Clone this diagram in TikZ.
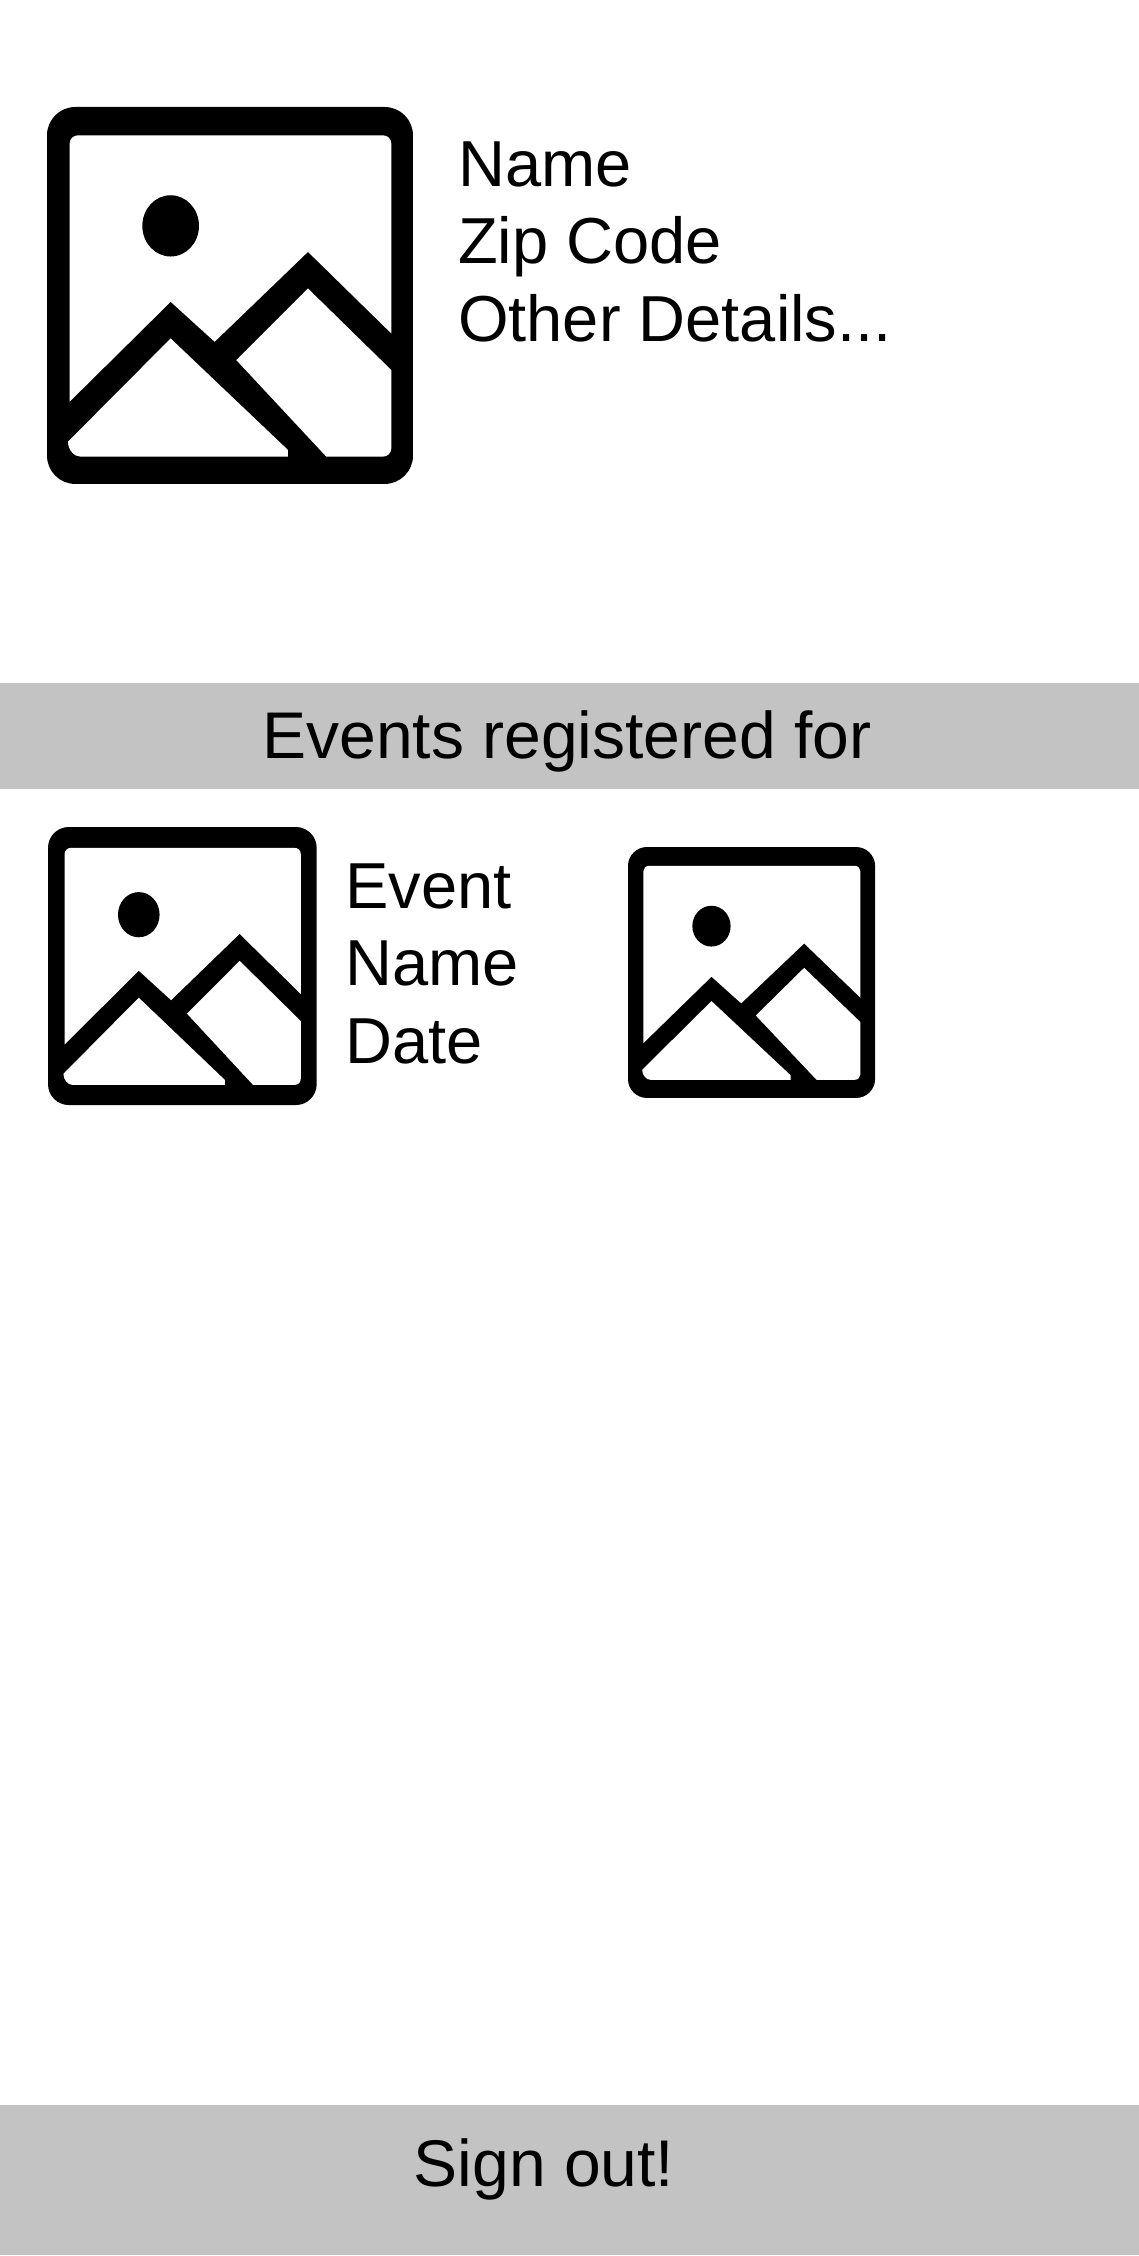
\documentclass[tikz,border=0pt]{standalone}
\usepackage{fontspec}
\setmainfont{Liberation Sans}
\definecolor{barfill}{HTML}{C3C3C3}
\newcommand{\picicon}[4]{%
\begin{scope}[shift={(#1pt,-#2pt)},x=#3pt,y=-#4pt]
\fill[black] (85,0) -- (1013,0) .. controls (1060,0) and (1098,38) .. (1098,85)
 -- (1098,1047) .. controls (1098,1094) and (1060,1132) .. (1013,1132)
 -- (85,1132) .. controls (38,1132) and (0,1094) .. (0,1047)
 -- (0,85) .. controls (0,38) and (38,0) .. (85,0) -- cycle;
\fill[white] (68,885) -- (371,585) -- (503,705) -- (783,435) -- (1033,680)
 -- (1033,110) .. controls (1033,96) and (1022,85) .. (1008,85)
 -- (93,85) .. controls (79,85) and (68,96) .. (68,110) -- cycle;
\fill[white] (568,760) -- (783,545) -- (1033,790) -- (1033,1025)
 .. controls (1033,1039) and (1022,1050) .. (1008,1050) -- (838,1050) -- cycle;
\fill[white] (63,1005) -- (371,695) -- (723,1030) -- (723,1050) -- (100,1050)
 .. controls (82,1050) and (63,1030) .. (63,1005) -- cycle;
\fill[black] (371,357) ellipse [x radius=85, y radius=92];
\end{scope}}
\tikzset{
 bartext/.style={anchor=base,inner sep=0pt,font=\fontsize{66}{78}\selectfont},
 infotext/.style={anchor=base west,inner sep=0pt,font=\fontsize{65}{78}\selectfont}
}
\begin{document}
\begin{tikzpicture}[x=1pt,y=-1pt]
\useasboundingbox (0,0) rectangle (1139,2256);
\fill[barfill] (0,683) rectangle (1139,789);
\fill[barfill] (0,2105) rectangle (1139,2255);
\picicon{47}{107}{0.3333}{0.333}
\picicon{48}{827}{0.2447}{0.2456}
\picicon{628}{847}{0.225}{0.2217}
\node[infotext] (name) at (458,186) {Name};
\node[infotext] (zip) at (458,263) {Zip Code};
\node[infotext] (other) at (458,341) {Other Details...};
\node[bartext] (events) at (567,758) {Events registered for};
\node[infotext] (event) at (345,908) {Event};
\node[infotext] (ename) at (345,985) {Name};
\node[infotext] (date) at (345,1063) {Date};
\node[bartext] (signout) at (544,2186) {Sign out!};
\end{tikzpicture}
\end{document}
